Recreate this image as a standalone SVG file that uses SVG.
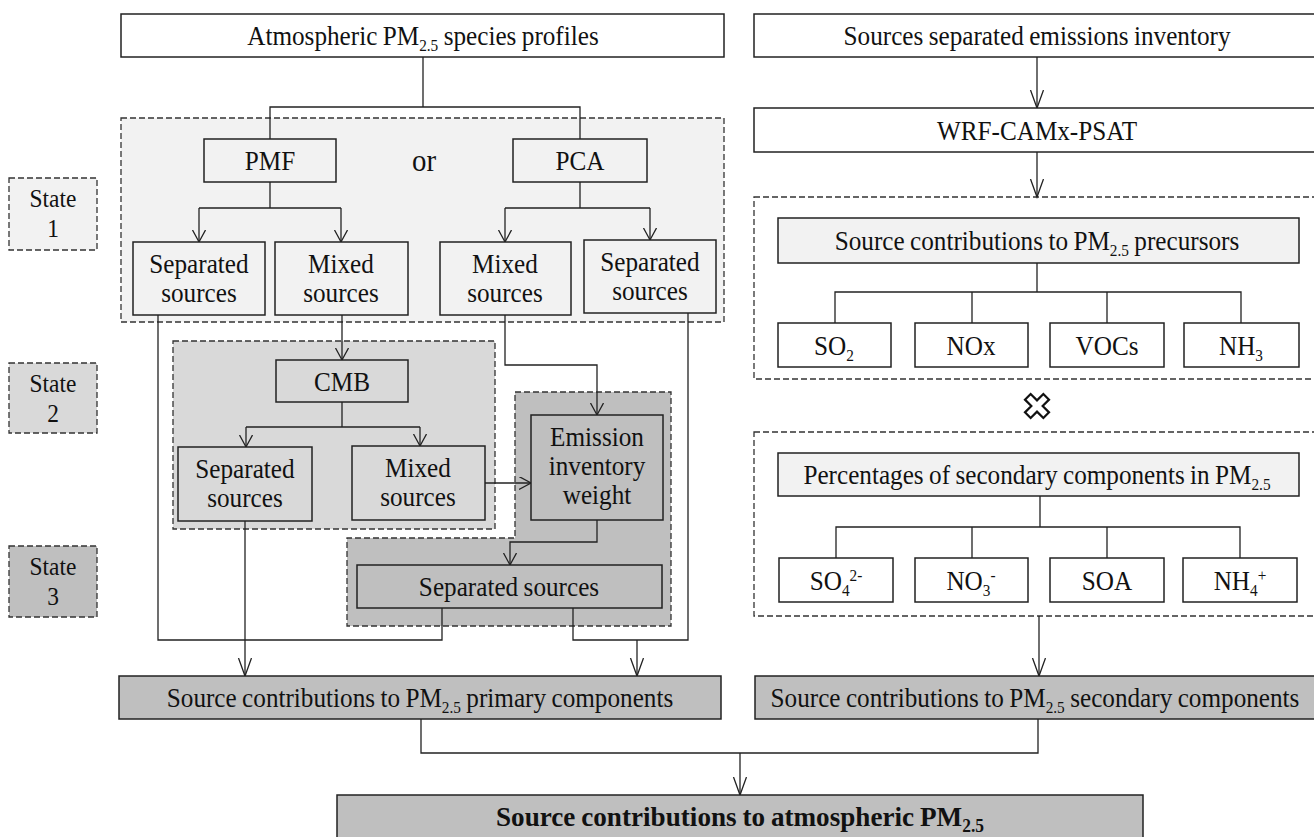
<svg xmlns="http://www.w3.org/2000/svg" width="1314" height="837" viewBox="0 0 1314 837">
<defs>
<style>
.box{stroke:#222;stroke-width:1.5}
.w{fill:#fff}
.g1{fill:#f2f2f2}
.g2{fill:#d9d9d9}
.g3{fill:#bfbfbf}
.dash{stroke:#333;stroke-width:1.3;stroke-dasharray:6,3}
.t{font-family:"Liberation Serif","Times New Roman",serif;font-size:28px;fill:#111;text-anchor:middle;word-spacing:-1px;transform-box:fill-box;transform-origin:center;transform:scaleX(0.9)}
.s{font-size:26px}
.b{font-weight:bold;transform:scaleX(0.97)}
.c{fill:none;stroke:#222;stroke-width:1.3}
</style>
<marker id="arr" markerWidth="14" markerHeight="15" refX="12" refY="6.5" orient="auto" markerUnits="userSpaceOnUse">
<path d="M0,0 L12,6.5 L0,13" fill="none" stroke="#222" stroke-width="1.3"/>
</marker>
<marker id="arrL" markerWidth="20" markerHeight="15" refX="18" refY="6.5" orient="auto" markerUnits="userSpaceOnUse">
<path d="M0,0 L18,6.5 L0,13" fill="none" stroke="#222" stroke-width="1.3"/>
</marker>
</defs>

<!-- regions -->
<g id="region-state1"><rect class="g1 dash" x="121" y="118" width="603" height="204"/></g>
<g id="region-state2"><rect class="g2 dash" x="173" y="341" width="322" height="188"/></g>
<g id="region-state3"><path class="g3 dash" d="M515,392 H671 V626 H347 V538 H515 Z"/></g>
<g id="region-precursors"><rect class="w dash" x="754" y="197" width="570" height="182"/></g>
<g id="region-percentages"><rect class="w dash" x="754" y="432" width="570" height="184"/></g>

<!-- state labels -->
<g id="state1"><rect class="g1 dash" x="9" y="178" width="88" height="72"/><text class="t s" x="53" y="207">State</text><text class="t s" x="53" y="237">1</text></g>
<g id="state2"><rect class="g2 dash" x="9" y="363" width="88" height="70"/><text class="t s" x="53" y="392">State</text><text class="t s" x="53" y="422">2</text></g>
<g id="state3"><rect class="g3 dash" x="9" y="546" width="88" height="71"/><text class="t s" x="53" y="575">State</text><text class="t s" x="53" y="605">3</text></g>

<!-- connectors -->
<g id="connectors">
<path class="c" d="M423,57 V107 M270,139 V107 H580 V139"/>
<path class="c" d="M270,182 V208 M199,208 H341"/>
<path class="c" d="M199,208 V242" marker-end="url(#arr)"/>
<path class="c" d="M341,208 V242" marker-end="url(#arr)"/>
<path class="c" d="M580,182 V208 M505,208 H650"/>
<path class="c" d="M505,208 V242" marker-end="url(#arr)"/>
<path class="c" d="M650,208 V240" marker-end="url(#arr)"/>
<path class="c" d="M158,315 V640 H442 V608"/>
<path class="c" d="M342,315 V360" marker-end="url(#arr)"/>
<path class="c" d="M505,315 V365 H597 V415" marker-end="url(#arr)"/>
<path class="c" d="M688,313 V640 H573 V608"/>
<path class="c" d="M637,640 V676" marker-end="url(#arrL)"/>
<path class="c" d="M342,402 V427 M246,427 H420"/>
<path class="c" d="M246,427 V447" marker-end="url(#arr)"/>
<path class="c" d="M420,427 V446" marker-end="url(#arr)"/>
<path class="c" d="M245,521 V676" marker-end="url(#arrL)"/>
<path class="c" d="M485,483 H531" marker-end="url(#arr)"/>
<path class="c" d="M597,520 V542 H510 V565" marker-end="url(#arr)"/>
<path class="c" d="M1037,57 V108" marker-end="url(#arrL)"/>
<path class="c" d="M1037,152 V197" marker-end="url(#arrL)"/>
<path class="c" d="M1037,263 V292 M835,323 V292 H1241 V323 M972,292 V323 M1107,292 V323"/>
<path class="c" d="M1040,496 V527 M836,558 V527 H1240 V558 M972,527 V558 M1107,527 V558"/>
<path class="c" d="M1039,616 V676" marker-end="url(#arrL)"/>
<path class="c" d="M421,719 V753 H1038 V719"/>
<path class="c" d="M740,753 V795" marker-end="url(#arrL)"/>
</g>

<!-- left column nodes -->
<g id="n-profiles"><rect class="box w" x="121" y="14" width="603" height="43"/><text class="t" x="423" y="45">Atmospheric PM<tspan font-size="17" dy="6">2.5</tspan><tspan dy="-6"> species profiles</tspan></text></g>
<g id="n-pmf"><rect class="box g1" x="204" y="139" width="132" height="43"/><text class="t" x="270" y="170">PMF</text></g>
<g id="n-or"><text class="t" x="424" y="171" style="font-size:32px">or</text></g>
<g id="n-pca"><rect class="box g1" x="513" y="139" width="134" height="43"/><text class="t" x="580" y="170">PCA</text></g>
<g id="n-sep1"><rect class="box g1" x="133" y="242" width="132" height="73"/><text class="t" x="199" y="273">Separated</text><text class="t" x="199" y="302">sources</text></g>
<g id="n-mix1"><rect class="box g1" x="275" y="242" width="133" height="73"/><text class="t" x="341" y="273">Mixed</text><text class="t" x="341" y="302">sources</text></g>
<g id="n-mix2"><rect class="box g1" x="440" y="242" width="131" height="73"/><text class="t" x="505" y="273">Mixed</text><text class="t" x="505" y="302">sources</text></g>
<g id="n-sep2"><rect class="box g1" x="584" y="240" width="132" height="73"/><text class="t" x="650" y="271">Separated</text><text class="t" x="650" y="300">sources</text></g>
<g id="n-cmb"><rect class="box g2" x="276" y="360" width="132" height="42"/><text class="t" x="342" y="391">CMB</text></g>
<g id="n-sep3"><rect class="box g2" x="178" y="447" width="134" height="74"/><text class="t" x="245" y="478">Separated</text><text class="t" x="245" y="507">sources</text></g>
<g id="n-mix3"><rect class="box g2" x="352" y="446" width="133" height="74"/><text class="t" x="418" y="477">Mixed</text><text class="t" x="418" y="506">sources</text></g>
<g id="n-emission"><rect class="box g3" x="531" y="415" width="132" height="105"/><text class="t" x="597" y="446">Emission</text><text class="t" x="597" y="475">inventory</text><text class="t" x="597" y="504">weight</text></g>
<g id="n-sep4"><rect class="box g3" x="357" y="565" width="305" height="43"/><text class="t" x="509" y="596">Separated sources</text></g>
<g id="n-primary"><rect class="box g3" x="119" y="676" width="602" height="43"/><text class="t" x="420" y="707">Source contributions to PM<tspan font-size="17" dy="6">2.5</tspan><tspan dy="-6"> primary components</tspan></text></g>

<!-- right column nodes -->
<g id="n-inventory"><rect class="box w" x="754" y="14" width="570" height="43"/><text class="t" x="1037" y="45">Sources separated emissions inventory</text></g>
<g id="n-wrf"><rect class="box w" x="754" y="108" width="570" height="44"/><text class="t" x="1037" y="140">WRF-CAMx-PSAT</text></g>
<g id="n-precursors"><rect class="box g1" x="778" y="218" width="521" height="45"/><text class="t" x="1037" y="250">Source contributions to PM<tspan font-size="17" dy="6">2.5</tspan><tspan dy="-6"> precursors</tspan></text></g>
<g id="n-so2"><rect class="box w" x="778" y="323" width="113" height="44"/><text class="t" x="834" y="355">SO<tspan font-size="17" dy="6">2</tspan></text></g>
<g id="n-nox"><rect class="box w" x="915" y="323" width="113" height="44"/><text class="t" x="971" y="355">NOx</text></g>
<g id="n-vocs"><rect class="box w" x="1050" y="323" width="114" height="44"/><text class="t" x="1107" y="355">VOCs</text></g>
<g id="n-nh3"><rect class="box w" x="1184" y="323" width="115" height="44"/><text class="t" x="1241" y="355">NH<tspan font-size="17" dy="6">3</tspan></text></g>
<g id="n-cross"><path transform="translate(1037,406) rotate(45)" d="M4,-13 V-4 H13 V4 H4 V13 H-4 V4 H-13 V-4 H-4 V-13 Z" fill="#fff" stroke="#111" stroke-width="2.2" stroke-linejoin="miter"/></g>
<g id="n-percentages"><rect class="box g1" x="778" y="453" width="521" height="43"/><text class="t" x="1037" y="484">Percentages of secondary components in PM<tspan font-size="17" dy="6">2.5</tspan></text></g>
<g id="n-so4"><rect class="box w" x="779" y="558" width="114" height="44"/><text class="t" x="836" y="590">SO<tspan font-size="17" dy="6">4</tspan><tspan font-size="17" dy="-15">2-</tspan></text></g>
<g id="n-no3"><rect class="box w" x="915" y="558" width="113" height="44"/><text class="t" x="971" y="590">NO<tspan font-size="17" dy="6">3</tspan><tspan font-size="17" dy="-15">-</tspan></text></g>
<g id="n-soa"><rect class="box w" x="1050" y="558" width="114" height="44"/><text class="t" x="1107" y="590">SOA</text></g>
<g id="n-nh4"><rect class="box w" x="1183" y="558" width="114" height="44"/><text class="t" x="1240" y="590">NH<tspan font-size="17" dy="6">4</tspan><tspan font-size="17" dy="-15">+</tspan></text></g>
<g id="n-secondary"><rect class="box g3" x="755" y="676" width="570" height="43"/><text class="t" x="1035" y="707">Source contributions to PM<tspan font-size="17" dy="6">2.5</tspan><tspan dy="-6"> secondary components</tspan></text></g>

<!-- final -->
<g id="n-final"><rect class="box g3" x="337" y="795" width="806" height="48"/><text class="t b" x="740" y="826">Source contributions to atmospheric PM<tspan font-size="18" dy="6">2.5</tspan></text></g>
</svg>
